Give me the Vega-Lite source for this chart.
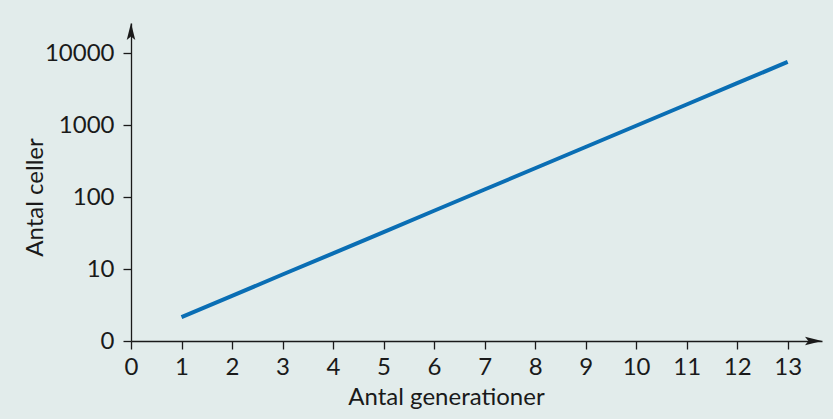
{
  "$schema": "https://vega.github.io/schema/vega-lite/v6.json",
  "autosize": {"type": "none"},
  "padding": {"left": 131, "top": 23, "right": 11, "bottom": 78},
  "width": 691,
  "height": 318,
  "background": "#e2eceb",
  "config": {
    "view": {"stroke": null},
    "font": "Lato",
    "axis": {
      "labelFont": "Lato",
      "titleFont": "Lato",
      "labelFontSize": 24,
      "titleFontSize": 24,
      "titleFontWeight": "normal",
      "labelColor": "#1a1a1a",
      "titleColor": "#1a1a1a",
      "domainColor": "#1a1a1a",
      "tickColor": "#1a1a1a",
      "domainWidth": 1.3,
      "tickWidth": 1.3,
      "tickSize": 8,
      "labelFlush": false,
      "grid": false
    }
  },
  "layer": [
    {
      "data": {
        "values": [
          {"gen": 1, "cells": 2.15},
          {"gen": 2, "cells": 4.24},
          {"gen": 3, "cells": 8.38},
          {"gen": 4, "cells": 16.5},
          {"gen": 5, "cells": 32.6},
          {"gen": 6, "cells": 64.4},
          {"gen": 7, "cells": 127},
          {"gen": 8, "cells": 251},
          {"gen": 9, "cells": 495},
          {"gen": 10, "cells": 977},
          {"gen": 11, "cells": 1928},
          {"gen": 12, "cells": 3805},
          {"gen": 13, "cells": 7508}
        ]
      },
      "mark": {"type": "line", "color": "#0a6eb4", "strokeWidth": 4, "strokeCap": "butt"},
      "encoding": {
        "x": {
          "field": "gen",
          "type": "quantitative",
          "scale": {"domain": [0, 13.68], "nice": false, "zero": false},
          "axis": {
            "values": [0, 1, 2, 3, 4, 5, 6, 7, 8, 9, 10, 11, 12, 13],
            "title": "Antal generationer",
            "titleX": 315,
            "labelPadding": 6,
            "titlePadding": 6
          }
        },
        "y": {
          "field": "cells",
          "type": "quantitative",
          "scale": {"type": "log", "domain": [1, 26102], "nice": false},
          "axis": {
            "values": [1, 10, 100, 1000, 10000],
            "labelExpr": "datum.value == 1 ? '0' : format(datum.value, 'd')",
            "title": "Antal celler",
            "titleY": 174,
            "labelPadding": 9,
            "titlePadding": -3
          }
        }
      }
    },
    {
      "data": {"values": [{"end": "y"}]},
      "mark": {
        "type": "point",
        "filled": true,
        "opacity": 1,
        "color": "#1a1a1a",
        "size": 289,
        "shape": "M0,0L0.5,2L0,1.6L-0.5,2Z"
      },
      "encoding": {
        "x": {"datum": 0, "type": "quantitative"},
        "y": {"datum": 26102, "type": "quantitative"}
      }
    },
    {
      "data": {"values": [{"end": "x"}]},
      "mark": {
        "type": "point",
        "filled": true,
        "opacity": 1,
        "color": "#1a1a1a",
        "size": 289,
        "shape": "M0,0L-2,-0.5L-1.6,0L-2,0.5Z"
      },
      "encoding": {
        "x": {"datum": 13.68, "type": "quantitative"},
        "y": {"datum": 1, "type": "quantitative"}
      }
    }
  ]
}
